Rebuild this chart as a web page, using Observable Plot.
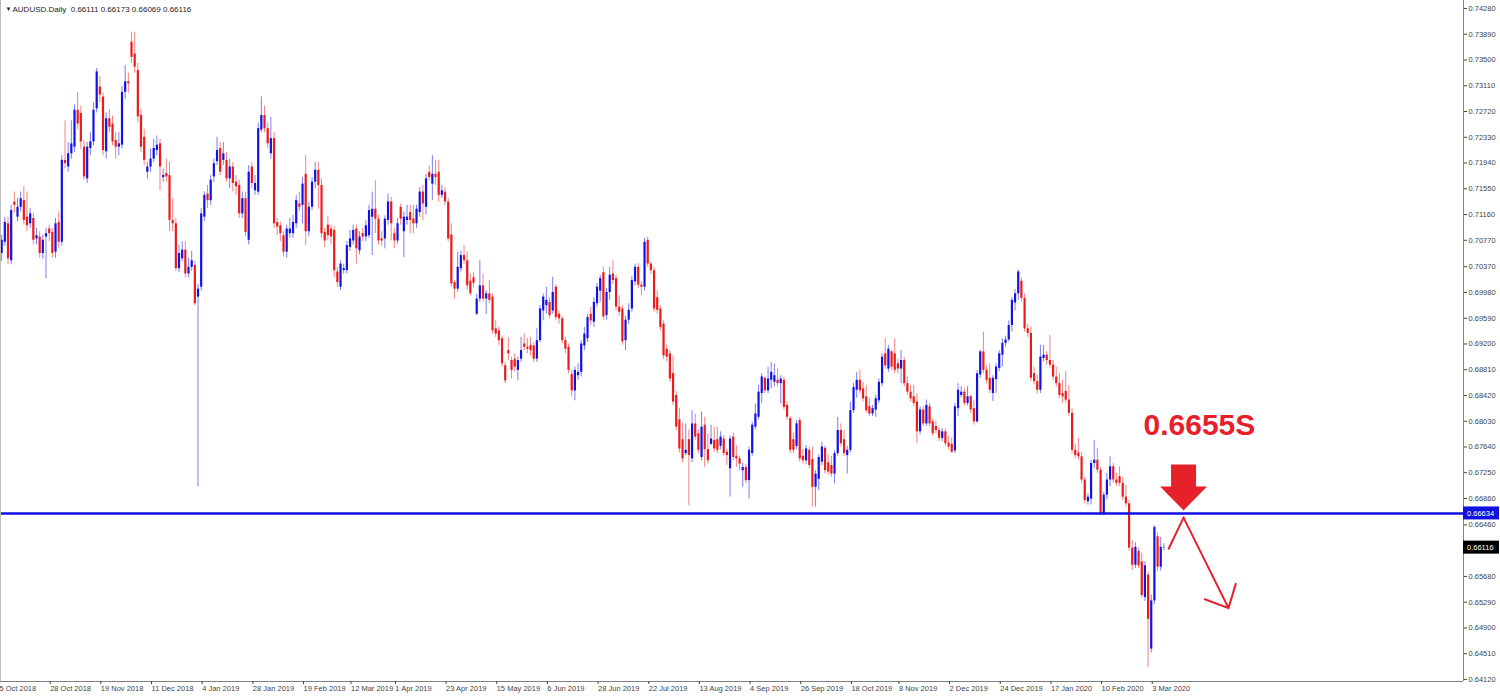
<!DOCTYPE html>
<html><head><meta charset="utf-8">
<script src="https://cdn.jsdelivr.net/npm/d3@7"></script>
<script src="https://cdn.jsdelivr.net/npm/@observablehq/plot@0.6"></script>
<style>
html,body{margin:0;padding:0;background:#fff;}
#chart{width:1500px;height:699px;overflow:hidden;}
</style></head><body><div id="chart"></div>
<script>
// ---------- data ----------
const symbol = "AUDUSD.Daily";
const firstDate = "2018-10-05";
const extraSessions = ["2018-10-28"];
const holidays = ["2018-12-25","2019-01-01","2019-12-25","2020-01-01"];

const open = [
.7087,.7057,.7074,.7102,.7046,.7135,.7112,.7127,.7137,.7112,
.7102,.7110,.7079,.7082,.7057,.7082,.7094,.7089,.7059,.7104,
.7074,.7198,.7188,.7208,.7218,.7274,.7269,.7218,.7170,.7216,
.7226,.7276,.7309,.7294,.7211,.7261,.7253,.7228,.7218,.7221,
.7301,.7317,.7377,.7359,.7334,.7266,.7233,.7180,.7188,.7200,
.7213,.7223,.7172,.7178,.7175,.7107,.7102,.7034,.7049,.7062,
.7026,.7036,.7039,.6991,.7006,.7112,.7147,.7137,.7173,.7196,
.7216,.7198,.7198,.7170,.7188,.7165,.7160,.7117,.7140,.7077,
.7188,.7152,.7150,.7244,.7266,.7246,.7208,.7231,.7104,.7099,
.7084,.7059,.7087,.7087,.7102,.7132,.7130,.7177,.7090,.7127,
.7165,.7183,.7160,.7089,.7100,.7094,.7092,.7029,.7006,.7031,
.7031,.7066,.7076,.7094,.7061,.7087,.7082,.7084,.7112,.7124,
.7109,.7079,.7079,.7107,.7135,.7087,.7076,.7127,.7090,.7107,
.7119,.7109,.7102,.7119,.7150,.7127,.7180,.7162,.7177,.7180,
.7145,.7150,.7135,.7085,.7013,.7003,.7034,.7054,.7046,.7015,
.7020,.6965,.6988,.7008,.6988,.6996,.6991,.6943,.6940,.6928,
.6887,.6910,.6895,.6897,.6880,.6897,.6920,.6915,.6918,.6917,
.6897,.6925,.6970,.6978,.6983,.6970,.7006,.6965,.6958,.6925,
.6915,.6874,.6849,.6872,.6877,.6917,.6928,.6965,.6953,.6981,
.7000,.7028,.6963,.6998,.7026,.7019,.6976,.6973,.6925,.6956,
.6973,.7014,.7036,.7009,.7006,.7077,.7041,.7031,.6990,.6973,
.6950,.6912,.6905,.6875,.6842,.6805,.6775,.6754,.6775,.6746,
.6799,.6784,.6748,.6797,.6760,.6768,.6774,.6775,.6765,.6776,
.6756,.6731,.6779,.6750,.6746,.6728,.6733,.6713,.6754,.6794,
.6809,.6845,.6868,.6849,.6865,.6862,.6865,.6860,.6865,.6827,
.6807,.6775,.6765,.6804,.6750,.6743,.6759,.6745,.6703,.6715,
.6741,.6762,.6740,.6736,.6723,.6754,.6789,.6775,.6751,.6759,
.6819,.6850,.6865,.6852,.6840,.6825,.6814,.6820,.6834,.6860,
.6905,.6882,.6908,.6905,.6890,.6882,.6895,.6860,.6847,.6840,
.6832,.6787,.6820,.6799,.6825,.6802,.6795,.6789,.6777,.6787,
.6770,.6768,.6758,.6822,.6842,.6847,.6830,.6840,.6822,.6802,
.6873,.6908,.6880,.6868,.6845,.6866,.6883,.6903,.6921,.6926,
.6948,.6982,.6996,.7015,.6989,.6943,.6936,.6875,.6863,.6850,
.6898,.6903,.6895,.6888,.6870,.6860,.6845,.6848,.6835,.6815,
.6759,.6755,.6749,.6714,.6681,.6685,.6739,.6744,.6729,.6663,
.6691,.6714,.6734,.6714,.6719,.6709,.6688,.6678,.6611,.6585,
.6606,.6590,.6536,.6570,.6458,.6531,.6628,.6582,.66111];

const high = [
.7095,.7085,.7112,.7112,.7130,.7150,.7140,.7150,.7158,.7150,
.7125,.7118,.7095,.7090,.7085,.7095,.7100,.7095,.7110,.7120,
.7205,.7258,.7225,.7258,.7282,.7301,.7280,.7228,.7225,.7240,
.7285,.7337,.7325,.7300,.7270,.7275,.7265,.7240,.7240,.7310,
.7342,.7330,.7392,.7392,.7345,.7275,.7245,.7195,.7215,.7230,
.7235,.7230,.7185,.7200,.7195,.7140,.7110,.7070,.7075,.7075,
.7050,.7060,.7045,.7010,.7125,.7150,.7160,.7175,.7200,.7233,
.7225,.7225,.7210,.7200,.7195,.7175,.7168,.7150,.7150,.7190,
.7195,.7175,.7255,.7294,.7280,.7255,.7263,.7240,.7110,.7105,
.7090,.7100,.7110,.7115,.7145,.7150,.7172,.7205,.7135,.7172,
.7195,.7195,.7170,.7095,.7112,.7100,.7098,.7036,.7046,.7041,
.7075,.7092,.7100,.7100,.7090,.7095,.7107,.7130,.7150,.7167,
.7115,.7090,.7114,.7147,.7142,.7095,.7110,.7132,.7120,.7130,
.7130,.7130,.7130,.7157,.7160,.7177,.7190,.7205,.7198,.7198,
.7160,.7157,.7140,.7102,.7016,.7059,.7061,.7069,.7059,.7026,
.7028,.6995,.7046,.7026,.7001,.7016,.6996,.6955,.6945,.6932,
.6892,.6930,.6900,.6905,.6900,.6930,.6935,.6928,.6930,.6922,
.6943,.6978,.6996,.7006,.6990,.7021,.7010,.6970,.6962,.6930,
.6920,.6880,.6885,.6890,.6925,.6945,.6965,.6975,.6990,.7012,
.7024,.7036,.7004,.7036,.7046,.7024,.6993,.6978,.6962,.6981,
.7022,.7041,.7042,.7014,.7080,.7082,.7044,.7036,.7000,.6978,
.6955,.6918,.6910,.6902,.6848,.6822,.6800,.6799,.6790,.6819,
.6814,.6790,.6817,.6809,.6784,.6797,.6794,.6794,.6787,.6781,
.6760,.6781,.6785,.6766,.6750,.6740,.6738,.6764,.6802,.6829,
.6857,.6875,.6870,.6885,.6892,.6890,.6882,.6872,.6870,.6832,
.6810,.6785,.6804,.6808,.6760,.6766,.6764,.6764,.6728,.6752,
.6771,.6765,.6752,.6750,.6758,.6809,.6799,.6789,.6765,.6832,
.6860,.6877,.6880,.6862,.6857,.6838,.6827,.6842,.6867,.6905,
.6928,.6918,.6910,.6928,.6897,.6910,.6900,.6870,.6857,.6857,
.6845,.6825,.6825,.6835,.6830,.6806,.6803,.6793,.6792,.6791,
.6780,.6778,.6830,.6860,.6855,.6852,.6855,.6842,.6834,.6880,
.6910,.6938,.6887,.6890,.6872,.6890,.6910,.6928,.6932,.6955,
.6990,.7002,.7032,.7020,.6996,.6950,.6946,.6885,.6873,.6918,
.6918,.6908,.6933,.6895,.6885,.6875,.6865,.6878,.6857,.6822,
.6768,.6777,.6756,.6718,.6693,.6744,.6774,.6762,.6733,.6695,
.6724,.6749,.6739,.6724,.6734,.6718,.6706,.6683,.6622,.6619,
.6611,.6603,.6590,.6575,.6540,.6645,.6634,.6627,.66173];

const low = [
.7040,.7045,.7068,.7040,.7040,.7118,.7105,.7120,.7100,.7090,
.7095,.7070,.7070,.7050,.7048,.7019,.7075,.7050,.7050,.7065,
.7068,.7185,.7180,.7200,.7210,.7245,.7215,.7168,.7163,.7205,
.7220,.7270,.7285,.7205,.7200,.7240,.7220,.7200,.7205,.7215,
.7290,.7300,.7345,.7330,.7255,.7210,.7190,.7170,.7180,.7195,
.7205,.7152,.7165,.7165,.7090,.7090,.7030,.7028,.7045,.7020,
.7020,.7030,.6978,.6704,.7000,.7105,.7125,.7130,.7165,.7190,
.7175,.7190,.7165,.7155,.7150,.7145,.7110,.7110,.7082,.7070,
.7155,.7145,.7145,.7240,.7240,.7215,.7200,.7095,.7085,.7075,
.7052,.7050,.7080,.7080,.7095,.7120,.7102,.7069,.7082,.7122,
.7155,.7124,.7080,.7066,.7076,.7070,.7021,.7006,.7001,.7026,
.7026,.7060,.7070,.7041,.7055,.7075,.7075,.7080,.7054,.7087,
.7070,.7068,.7064,.7100,.7076,.7064,.7071,.7100,.7051,.7100,
.7087,.7087,.7095,.7112,.7107,.7115,.7167,.7137,.7160,.7135,
.7140,.7130,.7075,.7006,.6988,.6998,.7029,.7040,.7001,.6993,
.7005,.6963,.6983,.6983,.6965,.6981,.6935,.6930,.6918,.6885,
.6860,.6895,.6867,.6877,.6864,.6892,.6910,.6905,.6902,.6892,
.6892,.6922,.6955,.6965,.6958,.6965,.6955,.6950,.6920,.6905,
.6875,.6840,.6834,.6865,.6870,.6910,.6922,.6948,.6945,.6975,
.6983,.6956,.6956,.6986,.7010,.6970,.6962,.6918,.6910,.6950,
.6968,.7008,.7004,.6993,.7000,.7036,.7025,.6968,.6965,.6940,
.6897,.6893,.6862,.6827,.6789,.6755,.6740,.6751,.6675,.6740,
.6774,.6754,.6743,.6733,.6738,.6766,.6756,.6754,.6760,.6750,
.6736,.6688,.6743,.6733,.6728,.6703,.6708,.6685,.6750,.6790,
.6805,.6830,.6845,.6845,.6852,.6855,.6855,.6829,.6820,.6804,
.6754,.6754,.6760,.6741,.6738,.6738,.6731,.6673,.6673,.6698,
.6736,.6723,.6721,.6718,.6708,.6750,.6764,.6749,.6723,.6755,
.6815,.6838,.6845,.6832,.6815,.6810,.6810,.6809,.6830,.6855,
.6882,.6877,.6880,.6875,.6875,.6860,.6855,.6842,.6832,.6825,
.6769,.6782,.6795,.6795,.6795,.6780,.6784,.6772,.6772,.6765,
.6760,.6754,.6754,.6810,.6838,.6826,.6826,.6815,.6797,.6800,
.6868,.6875,.6860,.6845,.6833,.6845,.6878,.6885,.6915,.6923,
.6938,.6970,.6986,.6984,.6938,.6930,.6863,.6858,.6845,.6845,
.6893,.6888,.6883,.6865,.6855,.6837,.6830,.6830,.6810,.6754,
.6746,.6744,.6709,.6678,.6676,.6676,.6731,.6724,.6660,.6660,
.6684,.6704,.6709,.6704,.6704,.6683,.6673,.6606,.6577,.6580,
.6580,.6535,.6530,.6430,.6452,.6525,.6575,.6576,.66069];

const close = [
.7049,.7077,.7104,.7049,.7122,.7130,.7127,.7140,.7107,.7099,
.7117,.7077,.7084,.7057,.7077,.7087,.7087,.7057,.7102,.7074,
.7198,.7193,.7208,.7223,.7274,.7253,.7226,.7173,.7218,.7226,
.7274,.7332,.7297,.7213,.7261,.7248,.7226,.7218,.7223,.7301,
.7317,.7314,.7354,.7339,.7264,.7218,.7198,.7188,.7200,.7216,
.7221,.7188,.7175,.7173,.7107,.7102,.7034,.7057,.7062,.7026,
.7036,.7046,.6981,.7003,.7117,.7145,.7137,.7168,.7193,.7213,
.7180,.7208,.7170,.7188,.7163,.7158,.7117,.7140,.7089,.7180,
.7163,.7163,.7246,.7266,.7246,.7223,.7231,.7102,.7097,.7087,
.7059,.7094,.7094,.7104,.7137,.7127,.7162,.7090,.7127,.7165,
.7183,.7160,.7087,.7076,.7084,.7082,.7031,.7013,.7041,.7034,
.7069,.7079,.7092,.7064,.7082,.7082,.7099,.7122,.7124,.7109,
.7076,.7076,.7109,.7135,.7102,.7076,.7102,.7109,.7112,.7112,
.7107,.7102,.7124,.7150,.7132,.7170,.7172,.7177,.7172,.7145,
.7152,.7135,.7079,.7011,.7003,.7036,.7054,.7046,.7008,.6996,
.7012,.6988,.7008,.6988,.6996,.6986,.6940,.6935,.6925,.6890,
.6864,.6905,.6880,.6885,.6895,.6910,.6915,.6912,.6910,.6897,
.6925,.6973,.6991,.6986,.6963,.6998,.6960,.6958,.6925,.6912,
.6880,.6849,.6880,.6877,.6920,.6935,.6960,.6955,.6983,.7006,
.7019,.6961,.6998,.7024,.7016,.6976,.6968,.6923,.6956,.6971,
.7016,.7036,.7009,.7006,.7074,.7041,.7031,.6973,.6971,.6945,
.6902,.6900,.6867,.6832,.6794,.6761,.6746,.6759,.6751,.6799,
.6779,.6759,.6794,.6760,.6743,.6776,.6761,.6759,.6779,.6754,
.6751,.6776,.6748,.6746,.6738,.6733,.6713,.6759,.6797,.6814,
.6847,.6870,.6849,.6867,.6877,.6872,.6860,.6867,.6824,.6809,
.6759,.6759,.6799,.6746,.6743,.6761,.6736,.6703,.6723,.6748,
.6764,.6728,.6726,.6723,.6754,.6789,.6769,.6754,.6759,.6819,
.6854,.6865,.6849,.6837,.6819,.6814,.6822,.6837,.6862,.6900,
.6887,.6912,.6885,.6880,.6882,.6895,.6860,.6847,.6837,.6830,
.6787,.6820,.6799,.6827,.6799,.6784,.6789,.6777,.6787,.6769,
.6764,.6756,.6825,.6850,.6847,.6830,.6840,.6820,.6802,.6875,
.6908,.6880,.6865,.6850,.6868,.6885,.6905,.6921,.6926,.6948,
.6986,.6996,.7029,.6989,.6943,.6936,.6868,.6863,.6850,.6900,
.6903,.6895,.6888,.6870,.6860,.6842,.6840,.6835,.6815,.6759,
.6751,.6749,.6714,.6683,.6688,.6739,.6744,.6729,.6663,.6691,
.6714,.6734,.6714,.6709,.6709,.6688,.6678,.6611,.6585,.6612,
.6584,.6539,.6584,.6503,.6531,.6642,.6582,.6612,.66116];

const priceTicks = [0.74280,0.73890,0.73500,0.73110,0.72720,0.72330,0.71940,0.71550,0.71160,
  0.70770,0.70370,0.69980,0.69590,0.69200,0.68810,0.68420,0.68030,0.67640,0.67250,0.66860,
  0.66460,0.65680,0.65290,0.64900,0.64510,0.64120];
const dateTicks = ["5 Oct 2018","28 Oct 2018","19 Nov 2018","11 Dec 2018","4 Jan 2019","28 Jan 2019",
  "19 Feb 2019","12 Mar 2019","1 Apr 2019","23 Apr 2019","15 May 2019","6 Jun 2019","28 Jun 2019",
  "22 Jul 2019","13 Aug 2019","4 Sep 2019","26 Sep 2019","18 Oct 2019","8 Nov 2019","2 Dec 2019",
  "24 Dec 2019","17 Jan 2020","10 Feb 2020","3 Mar 2020"];

const resistance = 0.66634;
const signalLabel = [{i: 379.2, price: 0.6797, text: "0.6655S"}];
const arrowTip = [{i: 374.2, price: 0.6668}];
const pathUp = [{i: 369.5, price: 0.6610}, {i: 374.2, price: 0.6657}];
const pathDown = [{i1: 374.2, p1: 0.6657, i2: 388.4, p2: 0.6520}];

// ---------- build ----------
const dates = [];
{
  const hol = new Set(holidays), extra = new Set(extraSessions);
  let t = Date.parse(firstDate + "T00:00:00Z");
  while (dates.length < close.length) {
    const d = new Date(t), iso = d.toISOString().slice(0, 10), wd = d.getUTCDay();
    if ((wd >= 1 && wd <= 5 && !hol.has(iso)) || extra.has(iso)) dates.push(iso);
    t += 86400000;
  }
}
const bars = close.map((c, k) => ({i: k, date: dates[k], open: open[k], high: high[k], low: low[k], close: c}));
const bull = bars.filter(d => d.close >= d.open);
const bear = bars.filter(d => d.close < d.open);

const parseLabel = d3.utcParse("%d %b %Y");
const tickIdx = dateTicks.map(s => {
  const iso = parseLabel(s).toISOString().slice(0, 10);
  return dates.findIndex(d => d >= iso);
});
const labelOf = new Map(tickIdx.map((k, j) => [k, dateTicks[j]]));

const fmt = d3.format(".5f");
const last = bars[bars.length - 1];
const title = `${symbol}  ${fmt(last.open)} ${fmt(last.high)} ${fmt(last.low)} ${fmt(last.close)}`;

const bullColor = "#1212e6", bearColor = "#ec1b1b", lineBlue = "#1010e0", annRed = "#e62129";
const xDomain = [0.63, 462.6], yDomain = [0.64089, 0.74401];

const blockArrow = {
  draw(ctx) {
    // tip at origin, pointing down
    ctx.moveTo(-12.5, -46); ctx.lineTo(12.5, -46); ctx.lineTo(12.5, -24); ctx.lineTo(23.5, -24);
    ctx.lineTo(0, 0); ctx.lineTo(-23.5, -24); ctx.lineTo(-12.5, -24); ctx.closePath();
  }
};

const font = "'Liberation Sans', Arial, sans-serif";
const chart = Plot.plot({
  width: 1500, height: 699,
  marginLeft: 0, marginRight: 37, marginTop: 0, marginBottom: 18,
  style: {background: "#fff", fontFamily: font},
  x: {domain: xDomain},
  y: {domain: yDomain},
  marks: [
    Plot.ruleX(bull, {x: "i", y1: "low", y2: "high", stroke: bullColor, strokeOpacity: 0.55, strokeWidth: 1, clip: true}),
    Plot.ruleX(bear, {x: "i", y1: "low", y2: "high", stroke: bearColor, strokeOpacity: 0.55, strokeWidth: 1, clip: true}),
    Plot.ruleX(bull, {x: "i", y1: "open", y2: "close", stroke: bullColor, strokeWidth: 2.2, clip: true}),
    Plot.ruleX(bear, {x: "i", y1: "open", y2: "close", stroke: bearColor, strokeWidth: 2.2, clip: true}),
    Plot.ruleY([resistance], {stroke: lineBlue, strokeWidth: 2.6}),
    Plot.ruleX([xDomain[0]], {stroke: "#bbb"}),
    Plot.ruleX([xDomain[1]], {stroke: "#808080"}),
    Plot.ruleY([yDomain[0]], {stroke: "#808080"}),
    Plot.axisY(priceTicks, {anchor: "right", tickSize: 3, tickPadding: 2, tickFormat: fmt, fontSize: 7.5, color: "#444"}),
    Plot.axisX(tickIdx, {anchor: "bottom", tickSize: 3, tickPadding: 1, tickFormat: k => labelOf.get(k), textAnchor: "start", dx: 1, fontSize: 7.5, color: "#444"}),
    Plot.text(["\u25BC"], {frameAnchor: "top-left", dx: 5, dy: 6, fontSize: 6, fill: "#222"}),
    Plot.text([title], {frameAnchor: "top-left", dx: 12, dy: 6, textAnchor: "start", fontSize: 8, fill: "#222"}),
    Plot.text(signalLabel, {x: "i", y: "price", text: "text", fontSize: 30, fontWeight: "bold", fill: annRed, textAnchor: "middle"}),
    Plot.dot(arrowTip, {x: "i", y: "price", symbol: blockArrow, fill: annRed, stroke: "none"}),
    Plot.line(pathUp, {x: "i", y: "price", stroke: annRed, strokeWidth: 2}),
    Plot.arrow(pathDown, {x1: "i1", y1: "p1", x2: "i2", y2: "p2", stroke: annRed, strokeWidth: 2, headLength: 19, headAngle: 86})
  ]
});
document.getElementById("chart").appendChild(chart);

// price tags on the right axis, placed through the chart's y scale
const ys = chart.scale("y");
const svg = d3.select(chart);
[[resistance, lineBlue], [last.close, "#000"]].forEach(([v, bg]) => {
  const py = ys.apply(v);
  const g = svg.append("g").attr("text-anchor", "start");
  g.append("rect").attr("x", 1463).attr("y", py - 6.5).attr("width", 36).attr("height", 13).attr("fill", bg);
  g.append("text").attr("x", 1467).attr("y", py).attr("dy", "0.35em").attr("fill", "#fff")
    .attr("text-anchor", "start").attr("font-size", 7.5).attr("font-family", font).text(fmt(v));
});
</script></body></html>
